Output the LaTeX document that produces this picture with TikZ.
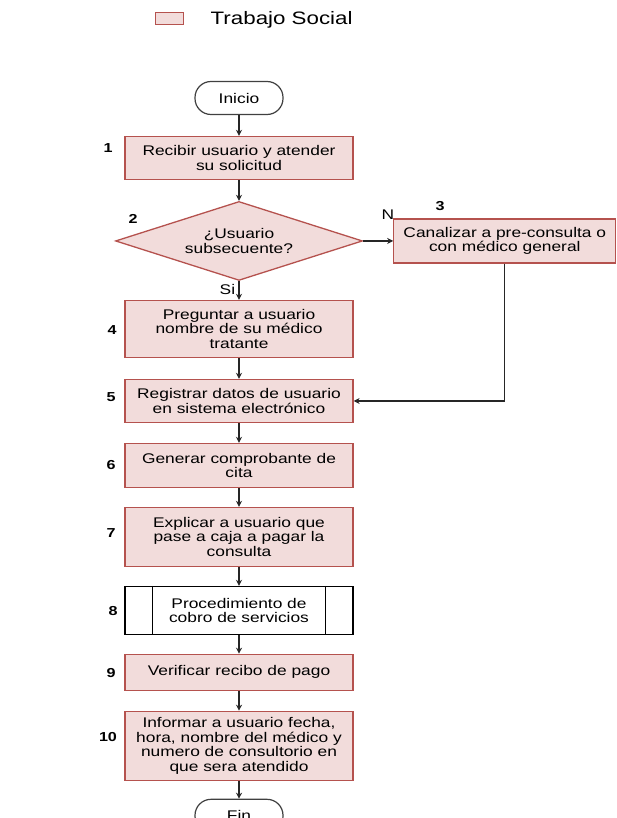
\documentclass[tikz,border=0pt]{standalone}
\usepackage{fontspec}
\setmainfont{Liberation Sans}[FakeStretch=1.24]
\usepackage{tikz}
\usetikzlibrary{arrows.meta,positioning,shapes.geometric}
\definecolor{SocialRed}{HTML}{B5524E}
\definecolor{SocialPink}{HTML}{F2DCDB}
\newcommand{\boxfont}{\fontsize{14}{14.5}\selectfont}
\tikzset{
  activity/.style={draw=SocialRed,line width=1.3pt,fill=SocialPink,
    minimum width=228pt,minimum height=43pt,inner sep=2pt,align=center,font=\boxfont},
  decision/.style={diamond,aspect=3.1,draw=SocialRed,line width=1.3pt,fill=SocialPink,
    minimum width=247pt,minimum height=79pt,inner sep=0pt,align=center,font=\boxfont},
  terminal/.style={draw=black!75,line width=1.2pt,rounded corners=16pt,
    minimum width=88pt,minimum height=33pt,font=\boxfont},
  subproc/.style={draw=black,line width=1.2pt,fill=white,
    minimum width=228pt,minimum height=48pt,inner sep=2pt,align=center,font=\boxfont},
  stepnum/.style={font=\bfseries\fontsize{13}{13}\selectfont},
  flow/.style={-{Stealth[length=6pt,width=6pt]},line width=1.1pt,draw=black!85}
}

\begin{document}
\begin{tikzpicture}[x=1pt,y=-1pt]
  \useasboundingbox (0,0) rectangle (616,818);
  \clip (0,0) rectangle (616,818);
  % legend
  \node[draw=SocialRed,line width=1.3pt,fill=SocialPink,minimum width=28pt,
    minimum height=12pt,inner sep=0pt] (legbox) at (169.5,18.5) {};
  \node[right=23pt of legbox,font=\fontsize{18}{18}\selectfont,yshift=-1.5pt] (legtext) {Trabajo Social};
  % flow
  \node[terminal] (start) at (239,98) {Inicio};
  \node[activity,below=20.7pt of start] (receive) {Recibir usuario y atender\\su solicitud};
  \node[decision,below=20.7pt of receive] (subseq) {¿Usuario\\subsecuente?};
  \node[activity,right=30pt of subseq,minimum width=222pt,minimum height=44pt] (channel)
    {Canalizar a pre-consulta o\\con médico general};
  \node[activity,below=18.7pt of subseq,minimum height=57pt] (ask)
    {Preguntar a usuario\\nombre de su médico\\tratante};
  \node[activity,below=20.7pt of ask] (record)
    {Registrar datos de usuario\\en sistema electrónico};
  \node[activity,below=19.7pt of record,minimum height=44pt] (voucher)
    {Generar comprobante de\\cita};
  \node[activity,below=18.7pt of voucher,minimum height=59pt] (explain)
    {Explicar a usuario que\\pase a caja a pagar la\\consulta};
  \node[subproc,below=18.7pt of explain] (payment) {Procedimiento de\\cobro de servicios};
  \draw[line width=1.2pt] ([xshift=28pt]payment.north west) -- ([xshift=28pt]payment.south west);
  \draw[line width=1.2pt] ([xshift=-28pt]payment.north east) -- ([xshift=-28pt]payment.south east);
  \node[activity,below=18.7pt of payment,minimum height=36pt] (receipt) {Verificar recibo de pago};
  \node[activity,below=19.7pt of receipt,minimum height=69pt] (inform)
    {Informar a usuario fecha,\\hora, nombre del médico y\\numero de consultorio en\\que sera atendido};
  \node[terminal,below=17.7pt of inform] (finish) {Fin};
  % step numbers
  \node[stepnum] at (108,148) {1};
  \node[stepnum] at (133,219) {2};
  \node[stepnum] at (440,206) {3};
  \node[stepnum] at (112,330) {4};
  \node[stepnum] at (111,397) {5};
  \node[stepnum] at (111,465) {6};
  \node[stepnum] at (111,533) {7};
  \node[stepnum] at (113,611) {8};
  \node[stepnum] at (111,673) {9};
  \node[stepnum] at (108,737) {10};
  % connectors
  \draw[flow] (start) -- (receive);
  \draw[flow] (receive) -- (subseq);
  \draw[flow] (subseq.east) -- (subseq.east -| channel.west);
  \node[font=\boxfont] at (388,215) {N};
  \draw[flow] (subseq) -- node[pos=0.45,left=0pt,font=\boxfont] {Si} (ask);
  \draw[flow] (ask) -- (record);
  \draw[flow] (channel.south) |- (record.east);
  \draw[flow] (record) -- (voucher);
  \draw[flow] (voucher) -- (explain);
  \draw[flow] (explain) -- (payment);
  \draw[flow] (payment) -- (receipt);
  \draw[flow] (receipt) -- (inform);
  \draw[flow] (inform) -- (finish);
\end{tikzpicture}
\end{document}
